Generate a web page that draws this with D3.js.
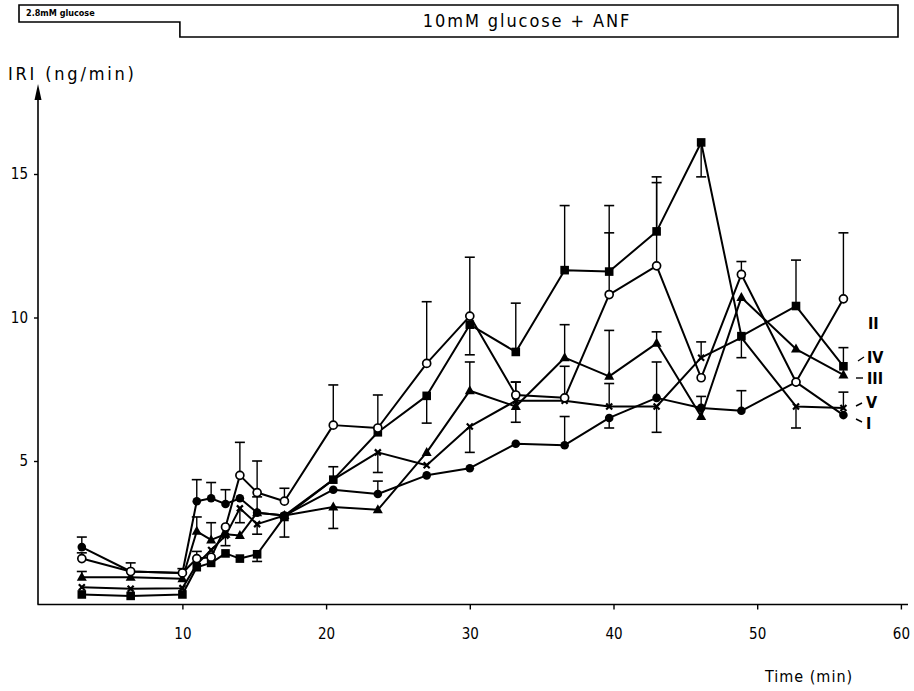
<!DOCTYPE html>
<html><head><meta charset="utf-8">
<script src="https://cdn.jsdelivr.net/npm/d3@7"></script>
<style>
body{margin:0;background:#fff}
text{font-family:"DejaVu Sans Condensed","DejaVu Sans",sans-serif;fill:#000}
</style>
</head><body><svg id="c" width="914" height="691"></svg>
<script>
// ---- data ----
const times = [3, 6.4, 10, 11, 12, 13, 14, 15.2, 17.1, 20.5, 23.6, 27, 30, 33.2, 36.6, 39.7, 43, 46.1, 48.9, 52.7, 56];
const seriesNames = ["I", "II", "III", "IV", "V"];
const valuesI   = [2.0, 1.15, 1.1, 3.6, 3.7, 3.5, 3.7, 3.2, 3.1, 4.0, 3.85, 4.5, 4.75, 5.6, 5.55, 6.5, 7.2, 6.85, 6.75, 7.75, 6.6];
const valuesII  = [1.6, 1.15, 1.1, 1.6, 1.65, 2.7, 4.5, 3.9, 3.6, 6.25, 6.15, 8.4, 10.05, 7.3, 7.2, 10.8, 11.8, 7.9, 11.5, 7.75, 10.65];
const valuesIII = [0.95, 0.95, 0.9, 2.55, 2.25, 2.45, 2.4, 3.2, 3.1, 3.4, 3.3, 5.3, 7.45, 6.9, 8.6, 7.95, 9.1, 6.55, 10.7, 8.9, 8.0];
const valuesIV  = [0.35, 0.3, 0.35, 1.3, 1.45, 1.78, 1.6, 1.75, 3.05, 4.35, 6.0, 7.27, 9.75, 8.8, 11.65, 11.6, 13.0, 16.1, 9.35, 10.4, 8.3];
const valuesV   = [0.6, 0.55, 0.57, 1.4, 1.9, 2.4, 3.35, 2.8, 3.1, 4.35, 5.3, 4.85, 6.2, 7.1, 7.1, 6.9, 6.9, 8.6, 9.3, 6.9, 6.85];
// signed error bars (+ up, - down, 0 none)
const errI   = [0.35, 0.3, 0.15, 0.75, 0.55, 0.5, 0, 0.55, 0, 0, 0.45, 0, 0, 0, 1.0, -0.35, 1.25, 0, 0.7, 0, 0];
const errII  = [0.2, 0, 0, 0.25, 0, 0, 1.15, 1.1, 0.45, 1.4, 1.15, 2.15, 2.05, 0.45, 0, 2.15, 2.9, 0, 0.45, 0, 2.3];
const errIII = [0.2, 0, 0, 0.5, 0.6, 0, 0, 0, 0, -0.75, 0, 0, 1.0, 0.85, 1.15, 1.6, 0.4, 0.7, 0, 0, 0];
const errIV  = [0, 0, 0, 0, 0, 0, 0, -0.25, 0, 0, 0, -0.95, -1.05, 1.7, 2.25, 2.3, 1.9, -1.2, -0.75, 1.6, 0.65];
const errV   = [0, 0, 0, 0, 0, -0.35, -0.5, -0.35, -0.75, 0.45, -0.7, 0, -0.9, -0.75, 1.2, 0.8, -0.9, 0.55, 0, -0.75, 0.55];
const xTicks = [10, 20, 30, 40, 50, 60];
const yTicks = [5, 10, 15];
const markerTypes = ["filledCircle", "openCircle", "triangle", "square", "cross"];
const headerLeft = "2.8mM glucose";
const headerRight = "10mM glucose + ANF";
const yTitle = "IRI (ng/min)";
const xTitle = "Time (min)";

const allValues = [valuesI, valuesII, valuesIII, valuesIV, valuesV];
const allErr = [errI, errII, errIII, errIV, errV];

// ---- layout ----
const svg = d3.select("#c");
const x = d3.scaleLinear().domain([0, 60]).range([38.7, 900.9]);
const y = d3.scaleLinear().domain([0, 15]).range([604.5, 174]);

// header box
const hb = svg.append("g");
hb.append("path")
  .attr("d", `M19,5 H898 V37 H${x(10) - 2.5} V22 H19 Z`)
  .attr("fill", "none").attr("stroke", "#000").attr("stroke-width", 1.6);
hb.append("text").attr("x", 26).attr("y", 16).attr("font-size", 9).attr("font-weight", "bold").text(headerLeft);
hb.append("text").attr("x", 527).attr("y", 27).attr("text-anchor", "middle").attr("font-size", 18)
  .attr("font-family", "DejaVu Sans, sans-serif").attr("letter-spacing", 1.9).text(headerRight);

// axes
const xAxis = d3.axisBottom(x).tickValues(xTicks).tickSize(5).tickSizeOuter(0).tickFormat(d3.format("d"));
const gx = svg.append("g").attr("transform", `translate(0,${y(0)})`).call(xAxis);
gx.select(".domain").remove();
gx.selectAll(".tick line").attr("stroke-width", 1.4);
gx.selectAll(".tick text").attr("font-size", 15).attr("y", 24).attr("dy", "0.71em").attr("fill", "#000");
svg.append("line").attr("x1", 37.5).attr("x2", 908).attr("y1", y(0)).attr("y2", y(0)).attr("stroke", "#000").attr("stroke-width", 1.6);

const yAxis = d3.axisLeft(y).tickValues(yTicks).tickSize(4).tickSizeOuter(0);
const gy = svg.append("g").attr("transform", "translate(38,0)").call(yAxis);
gy.select(".domain").remove();
gy.selectAll(".tick line").attr("stroke-width", 1.4);
gy.selectAll(".tick text").attr("font-size", 15).attr("x", -10).attr("fill", "#000");
svg.append("line").attr("x1", 38).attr("x2", 38).attr("y1", y(0)).attr("y2", 96).attr("stroke", "#000").attr("stroke-width", 1.6);
svg.append("path").attr("d", "M38,84 L34.5,100 L41.5,100 Z").attr("fill", "#000");

svg.append("text").attr("x", 8).attr("y", 80).attr("font-size", 18)
  .attr("font-family", "DejaVu Sans, sans-serif").attr("letter-spacing", 2.8).text(yTitle);
svg.append("text").attr("x", 765).attr("y", 682).attr("font-size", 16)
  .attr("font-family", "DejaVu Sans, sans-serif").attr("letter-spacing", 1).text(xTitle);

// lines
const line = d3.line().x((d) => x(d[0])).y((d) => y(d[1]));
allValues.forEach((vals) => {
  svg.append("path").datum(times.map((t, i) => [t, vals[i]]))
    .attr("d", line).attr("fill", "none").attr("stroke", "#000").attr("stroke-width", 2).attr("stroke-linejoin", "round");
});

// error bars
allValues.forEach((vals, s) => {
  const errs = allErr[s];
  times.forEach((t, i) => {
    const e = errs[i];
    if (!e) return;
    const cx = x(t), y1 = y(vals[i]), y2 = y(vals[i] + e);
    svg.append("line").attr("x1", cx).attr("x2", cx).attr("y1", y1).attr("y2", y2).attr("stroke", "#000").attr("stroke-width", 1.4);
    svg.append("line").attr("x1", cx - 5).attr("x2", cx + 5).attr("y1", y2).attr("y2", y2).attr("stroke", "#000").attr("stroke-width", 1.6);
  });
});

// markers
function drawMarker(g, type, cx, cy) {
  if (type === "filledCircle") {
    g.append("circle").attr("cx", cx).attr("cy", cy).attr("r", 4.3).attr("fill", "#000");
  } else if (type === "openCircle") {
    g.append("circle").attr("cx", cx).attr("cy", cy).attr("r", 4).attr("fill", "#fff").attr("stroke", "#000").attr("stroke-width", 1.7);
  } else if (type === "triangle") {
    g.append("path").attr("d", `M${cx},${cy - 5.5} L${cx + 5},${cy + 3.5} L${cx - 5},${cy + 3.5} Z`).attr("fill", "#000");
  } else if (type === "square") {
    g.append("rect").attr("x", cx - 4.3).attr("y", cy - 4.3).attr("width", 8.6).attr("height", 8.6).attr("fill", "#000");
  } else {
    g.append("path").attr("d", `M${cx - 3},${cy - 3} L${cx + 3},${cy + 3} M${cx + 3},${cy - 3} L${cx - 3},${cy + 3}`)
      .attr("stroke", "#000").attr("stroke-width", 2.2);
    g.append("rect").attr("x", cx - 1.5).attr("y", cy - 1.5).attr("width", 3).attr("height", 3).attr("fill", "#000");
  }
}
const mg = svg.append("g");
[4, 2, 0, 3, 1].forEach((s) => {
  times.forEach((t, i) => drawMarker(mg, markerTypes[s], x(t), y(allValues[s][i])));
});

// series labels
const lab = svg.append("g");
const labelPos = { "II": [868, 329, 0], "IV": [867, 363, 1], "III": [867, 384, 2], "V": [866, 408, 3], "I": [866, 429, 4] };
const dashes = [null, [858, 361, 864, 357], [856, 378, 863, 378], [856, 406, 862, 403], [856, 419, 862, 422]];
seriesNames.forEach((n) => {
  const p = labelPos[n];
  lab.append("text").attr("x", p[0]).attr("y", p[1]).attr("font-size", 16)
    .attr("font-family", "Liberation Serif, serif").attr("font-weight", "bold").text(n);
  const d = dashes[p[2]];
  if (d) {
    lab.append("line").attr("x1", d[0]).attr("y1", d[1]).attr("x2", d[2]).attr("y2", d[3]).attr("stroke", "#000").attr("stroke-width", 1.4);
  }
});
</script>
</body></html>
